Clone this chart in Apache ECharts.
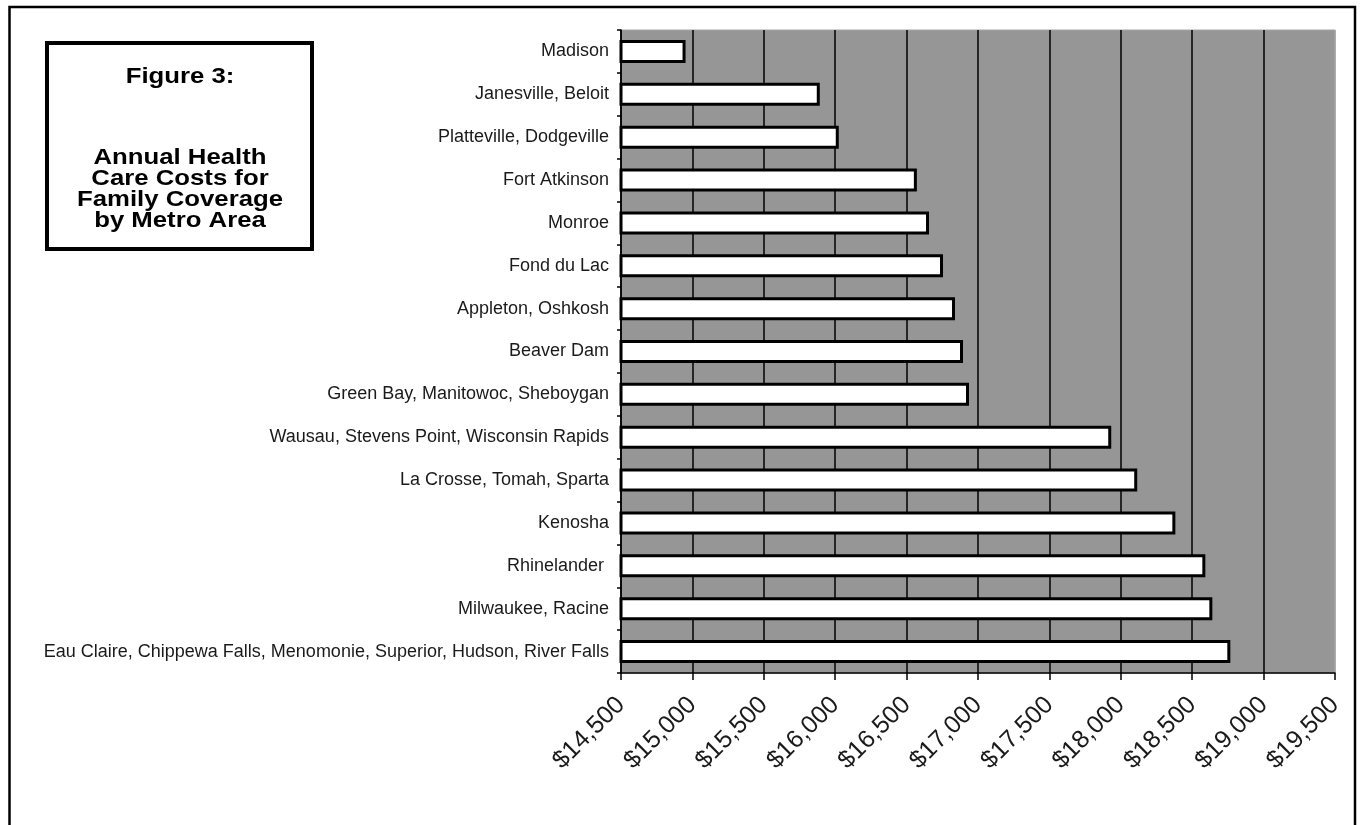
<!DOCTYPE html>
<html>
<head>
<meta charset="utf-8">
<style>
  html, body { margin: 0; padding: 0; background: #ffffff; }
  #chart { width: 1361px; height: 825px; }
</style>
<script src="https://cdn.jsdelivr.net/npm/echarts@6/dist/echarts.min.js"></script>
</head>
<body>
<div id="chart"></div>
<script>
// Metro areas, listed top to bottom
const metroAreas = [
  'Madison',
  'Janesville, Beloit',
  'Platteville, Dodgeville',
  'Fort Atkinson',
  'Monroe',
  'Fond du Lac',
  'Appleton, Oshkosh',
  'Beaver Dam',
  'Green Bay, Manitowoc, Sheboygan',
  'Wausau, Stevens Point, Wisconsin Rapids',
  'La Crosse, Tomah, Sparta',
  'Kenosha',
  'Rhinelander ',
  'Milwaukee, Racine',
  'Eau Claire, Chippewa Falls, Menomonie, Superior, Hudson, River Falls'
];

// Annual family-coverage cost, dollars
const annualCost = [
  14952, 15892, 16025, 16572, 16657, 16755, 16839, 16895, 16937,
  17933, 18115, 18382, 18592, 18641, 18767
];

// Dollar axis range and step
const axisMin = 14500;
const axisMax = 19500;
const axisStep = 500;

// Heading shown in the boxed panel
const headingTitle = 'Figure 3:';
const headingBody = ['Annual Health', 'Care Costs for', 'Family Coverage', 'by Metro Area'];

const chart = echarts.init(document.getElementById('chart'), null, { renderer: 'canvas' });

const money = v => '$' + v.toLocaleString('en-US');

// One black split line per tick, except the right edge which blends with the frame
const tickCount = Math.round((axisMax - axisMin) / axisStep) + 1;
const splitColors = [];
for (let i = 0; i < tickCount; i++) splitColors.push(i === tickCount - 1 ? '#a0a0a0' : '#000000');

const headingFont = 'bold 22px "Liberation Sans", Arial, sans-serif';
const headingText = (text, y) => ({
  type: 'text',
  x: 180,
  y: y,
  scaleX: 1.17,
  style: { text: text, font: headingFont, fill: '#000000', textAlign: 'center', textVerticalAlign: 'middle' },
  z: 10
});
const headingTexts = [headingText(headingTitle, 77)]
  .concat(headingBody.map((line, i) => headingText(line, 158 + i * 21)));

chart.setOption({
  backgroundColor: '#ffffff',
  animation: false,
  grid: {
    left: 621,
    right: 26,
    top: 30,
    bottom: 152,
    show: true,
    backgroundColor: '#969696',
    borderColor: '#a4a4a4',
    borderWidth: 1
  },
  xAxis: {
    type: 'value',
    min: axisMin,
    max: axisMax,
    interval: axisStep,
    axisLine: { show: true, lineStyle: { color: '#000000', width: 1.5 } },
    axisTick: { show: true, length: 7, lineStyle: { color: '#000000', width: 1.5 } },
    splitLine: { show: true, lineStyle: { color: splitColors, width: 1.5 } },
    axisLabel: {
      rotate: 45,
      margin: 28,
      formatter: money,
      color: '#1a1a1a',
      fontSize: 25,
      fontFamily: '"Liberation Sans", Arial, sans-serif'
    }
  },
  yAxis: {
    type: 'category',
    inverse: true,
    data: metroAreas,
    axisLine: { show: true, lineStyle: { color: '#000000', width: 1.5 } },
    axisTick: { show: true, length: 4, lineStyle: { color: '#000000', width: 1.5 } },
    axisLabel: {
      margin: 12,
      color: '#1a1a1a',
      fontSize: 18,
      fontFamily: '"Liberation Sans", Arial, sans-serif'
    }
  },
  series: [{
    type: 'bar',
    data: annualCost,
    barWidth: 23,
    itemStyle: { color: '#ffffff', borderColor: '#000000', borderWidth: 3 },
    emphasis: { disabled: true }
  }],
  graphic: [
    {
      type: 'rect',
      shape: { x: 9.5, y: 7, width: 1345.5, height: 840 },
      style: { fill: 'none', stroke: '#000000', lineWidth: 2.5 },
      z: 0
    },
    {
      type: 'rect',
      shape: { x: 47, y: 43, width: 265, height: 206 },
      style: { fill: '#ffffff', stroke: '#000000', lineWidth: 4 },
      z: 5
    }
  ].concat(headingTexts)
});
</script>
</body>
</html>
